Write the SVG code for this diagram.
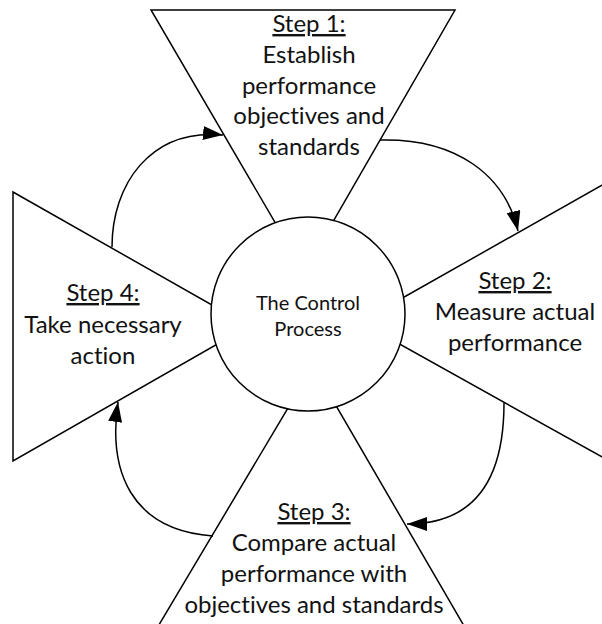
<svg xmlns="http://www.w3.org/2000/svg" width="602" height="624" viewBox="0 0 602 624">
<defs>
<style>
.shape{fill:#fff;stroke:#000;stroke-width:1.5;stroke-linejoin:miter}
.conn{fill:none;stroke:#000;stroke-width:1.5}
.t{font-family:Lato,"Open Sans","Liberation Sans",sans-serif;font-size:24px;fill:#111;text-anchor:middle;font-variant-ligatures:none}
.c{font-family:Lato,"Open Sans","Liberation Sans",sans-serif;font-size:20px;fill:#111;text-anchor:middle;font-variant-ligatures:none}
.u{text-decoration:underline}
</style>
<marker id="arr" markerUnits="userSpaceOnUse" markerWidth="21" markerHeight="14" refX="20" refY="7" orient="auto">
<path d="M0,0 L20,7 L0,14 z" fill="#000"/>
</marker>
</defs>
<rect width="602" height="624" fill="#fff"/>
<g id="step1">
<polygon class="shape" points="151,10 455,10 304,272"/>
<text class="t"><tspan class="u" x="309" y="32">Step 1:</tspan><tspan x="309" y="63">Establish</tspan><tspan x="309" y="94">performance</tspan><tspan x="309" y="124">objectives and</tspan><tspan x="309" y="155">standards</tspan></text>
</g>
<g id="step2">
<polygon class="shape" points="360,322 620,175 620,467"/>
<text class="t"><tspan class="u" x="515" y="289">Step 2:</tspan><tspan x="515" y="320">Measure actual</tspan><tspan x="515" y="351">performance</tspan></text>
</g>
<g id="step3">
<polygon class="shape" points="313,366 144,650 478,650"/>
<text class="t"><tspan class="u" x="314" y="520">Step 3:</tspan><tspan x="314" y="551">Compare actual</tspan><tspan x="314" y="582">performance with</tspan><tspan x="314" y="613">objectives and standards</tspan></text>
</g>
<g id="step4">
<polygon class="shape" points="13,192 249,326 13,461"/>
<text class="t"><tspan class="u" x="103" y="301">Step 4:</tspan><tspan x="103" y="333">Take necessary</tspan><tspan x="103" y="364">action</tspan></text>
</g>
<g id="center">
<circle class="shape" cx="308" cy="314" r="97"/>
<text class="c"><tspan x="308" y="310">The Control</tspan><tspan x="308" y="336">Process</tspan></text>
</g>
<g id="connectors">
<path class="conn" marker-end="url(#arr)" d="M112,247 C112,185 150,128 223,135"/>
<path class="conn" marker-end="url(#arr)" d="M380,140 C456,138 505,175 518,231"/>
<path class="conn" marker-end="url(#arr)" d="M504,403 C504,480 475,524 407,524"/>
<path class="conn" marker-end="url(#arr)" d="M213,536 C130,530 108,470 118,402"/>
</g>
</svg>
